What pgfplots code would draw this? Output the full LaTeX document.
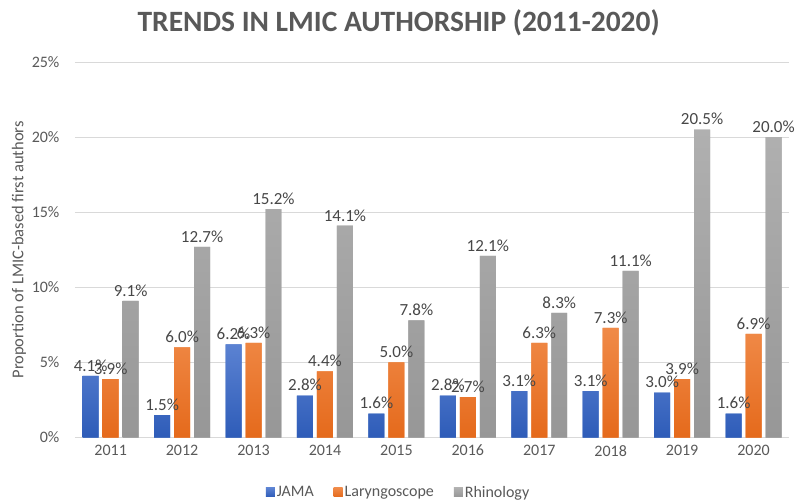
\documentclass[border=0pt]{standalone}
\usepackage{pgfplots}
\pgfplotsset{compat=1.18}
\usepackage{fontspec}
\setmainfont{Carlito}
\definecolor{tickgray}{HTML}{595959}
\definecolor{gridgray}{HTML}{D9D9D9}
\definecolor{jama}{HTML}{4472C4}
\definecolor{jamaT}{HTML}{5B82D2}
\definecolor{jamaB}{HTML}{2E5CB8}
\definecolor{lary}{HTML}{ED7D31}
\definecolor{laryT}{HTML}{F08A48}
\definecolor{laryB}{HTML}{E56A1C}
\definecolor{rhin}{HTML}{A5A5A5}
\definecolor{rhinT}{HTML}{B0B0B0}
\definecolor{rhinB}{HTML}{979797}
\begin{document}
\begin{tikzpicture}
\begin{axis}[
  scale only axis, width=715pt, height=376pt,
  ybar=4pt, bar width=16pt,
  xmin=-0.5, xmax=9.5, ymin=0, ymax=25,
  xtick=data,
  xticklabels={2011,2012,2013,2014,2015,2016,2017,2018,2019,2020},
  ytick={0,5,10,15,20,25},
  yticklabel={\pgfmathprintnumber{\tick}\%},
  /pgf/number format/assume math mode=true,
  ymajorgrids, grid style={gridgray, line width=0.8pt},
  axis x line*=bottom, axis y line*=left,
  x axis line style={gridgray, line width=0.8pt, -},
  y axis line style={draw=none},
  major tick length=0pt,
  tick label style={font=\fontsize{16}{18}\selectfont, text=tickgray},
  xticklabel style={yshift=-4pt},
  yticklabel style={xshift=-12pt},
  ylabel={Proportion of LMIC-based first authors},
  ylabel style={font=\fontsize{16.5}{18}\selectfont, text=tickgray, yshift=-1pt},
  nodes near coords={\pgfmathprintnumber[fixed,fixed zerofill,precision=1]{\pgfplotspointmeta}\%},
  nodes near coords style={font=\fontsize{17}{19}\selectfont, text=black!72, yshift=1pt},
  legend style={at={(0.453,-0.146)}, anchor=center, draw=none, legend columns=-1,
    font=\fontsize{16}{18}\selectfont, text=tickgray,
    /tikz/every even column/.append style={column sep=18pt}},
  legend image code/.code={\fill[#1] (0pt,-4.5pt) rectangle (9pt,4.5pt);},
  clip=false,
]
\addplot[draw=none, fill=jama, top color=jamaT, bottom color=jamaB] coordinates {(0,4.1)(1,1.5)(2,6.2)(3,2.8)(4,1.6)(5,2.8)(6,3.1)(7,3.1)(8,3.0)(9,1.6)};
\addplot[draw=none, fill=lary, top color=laryT, bottom color=laryB] coordinates {(0,3.9)(1,6.0)(2,6.3)(3,4.4)(4,5.0)(5,2.7)(6,6.3)(7,7.3)(8,3.9)(9,6.9)};
\addplot[draw=none, fill=rhin, top color=rhinT, bottom color=rhinB] coordinates {(0,9.1)(1,12.7)(2,15.2)(3,14.1)(4,7.8)(5,12.1)(6,8.3)(7,11.1)(8,20.5)(9,20.0)};
\legend{JAMA,Laryngoscope,Rhinology}
\end{axis}
\node[font=\bfseries\fontsize{29.5}{32}\selectfont, text=tickgray] at (324pt,415pt) {TRENDS IN LMIC AUTHORSHIP (2011-2020)};
\path (-75pt,-66pt) rectangle (723pt,438pt);
\end{tikzpicture}
\end{document}
